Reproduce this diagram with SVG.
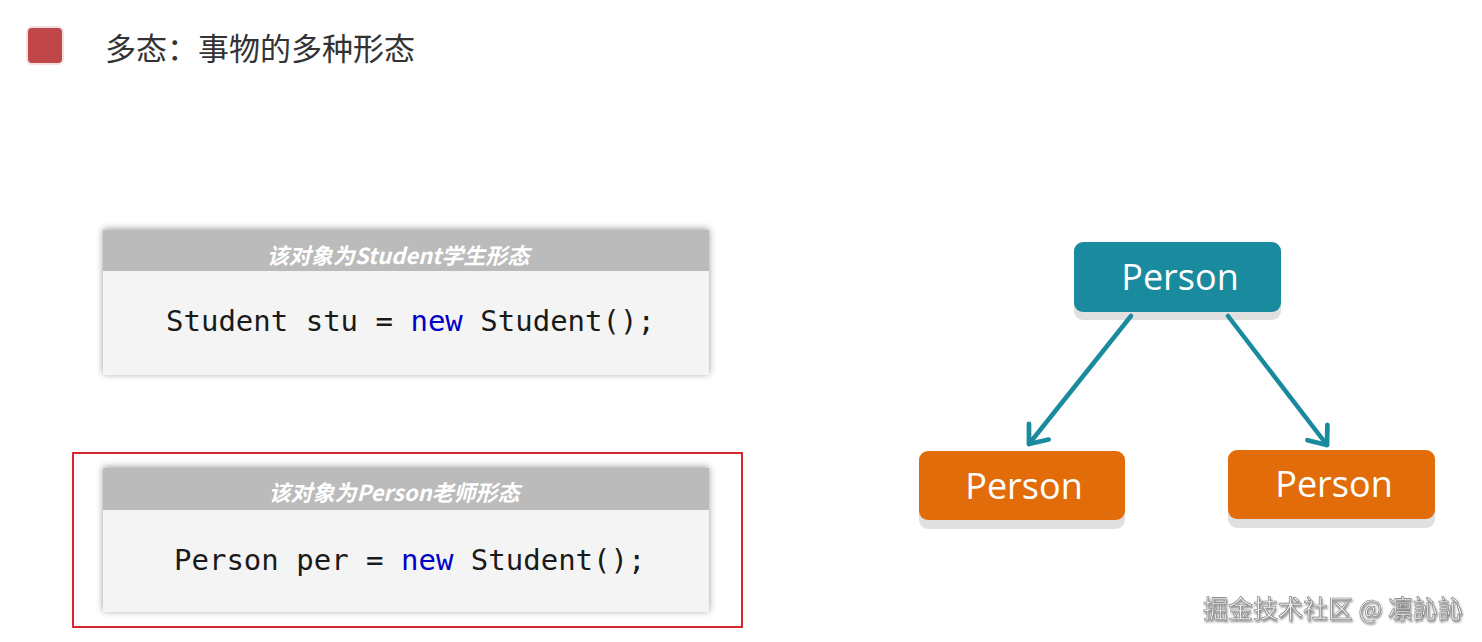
<svg xmlns="http://www.w3.org/2000/svg" width="1482" height="642" viewBox="0 0 1482 642">
<defs>
<style>
.title{font-family:"Noto Sans CJK SC","Noto Sans",sans-serif;font-size:31px;fill:#333}
.hdr{font-family:"Noto Sans CJK SC","Noto Sans",sans-serif;font-size:22px;font-weight:bold;font-style:italic;fill:#fff}
.code{font-family:"DejaVu Sans Mono","Liberation Mono",monospace;font-size:29px;fill:#1a1a1a}
.kw{fill:#0000c8}
.node{font-family:"Open Sans","Noto Sans",sans-serif;font-size:36px;fill:#fff}
.conn{stroke:#1a8a9e;stroke-width:4.5;fill:none;stroke-linecap:round}
.wm{font-family:"Noto Sans CJK SC","Noto Sans",sans-serif;font-size:25px;fill:#f2f2f2;stroke:#777;stroke-width:0.6}
</style>
<filter id="sh" x="-10%" y="-20%" width="120%" height="140%">
<feDropShadow dx="0" dy="-1" stdDeviation="3.5" flood-color="#000" flood-opacity="0.4"/>
</filter>
<filter id="wsh" x="-5%" y="-20%" width="110%" height="150%">
<feDropShadow dx="1" dy="2" stdDeviation="0.8" flood-color="#555" flood-opacity="0.7"/>
</filter>
<marker id="ah" viewBox="0 0 20 20" refX="12" refY="10" markerWidth="7" markerHeight="7" markerUnits="strokeWidth" orient="auto">
<path d="M2,2 L12,10 L2,18" fill="none" stroke="#1a8a9e" stroke-width="3" stroke-linecap="round" stroke-linejoin="round"/>
</marker>
</defs>
<rect width="1482" height="642" fill="#fff"/>
<g id="title">
<rect x="26" y="26" width="38" height="39" rx="6" fill="#f3e1e1"/>
<rect x="28" y="28" width="34" height="35" rx="4" fill="#c1464a"/>
<text class="title" x="105" y="60">多态：事物的多种形态</text>
</g>
<g id="card1">
<g filter="url(#sh)">
<rect x="103" y="230" width="606" height="145" fill="#f4f4f4"/>
</g>
<rect x="103" y="230" width="606" height="41" fill="#bbbbbb"/>
<text class="hdr" x="398" y="264" text-anchor="middle">该对象为Student学生形态</text>
<text class="code" x="166" y="331">Student stu = <tspan class="kw">new</tspan> Student();</text>
</g>
<g id="card2">
<rect x="73" y="453" width="669" height="174" fill="none" stroke="#d9272e" stroke-width="2"/>
<g filter="url(#sh)">
<rect x="103" y="468" width="606" height="144" fill="#f4f4f4"/>
</g>
<rect x="103" y="468" width="606" height="42" fill="#bbbbbb"/>
<text class="hdr" x="394" y="501" text-anchor="middle">该对象为Person老师形态</text>
<text class="code" x="174" y="570">Person per = <tspan class="kw">new</tspan> Student();</text>
</g>
<g id="node-top">
<rect x="1074" y="250" width="207" height="70" rx="9" fill="#e0e0e0"/>
<rect x="1074" y="242" width="207" height="70" rx="9" fill="#1a8a9e"/>
<text class="node" x="1180" y="290" text-anchor="middle">Person</text>
</g>
<g id="node-left">
<rect x="919" y="459" width="206" height="70" rx="9" fill="#e0e0e0"/>
<rect x="919" y="451" width="206" height="69" rx="9" fill="#e36c0a"/>
<text class="node" x="1024" y="499" text-anchor="middle">Person</text>
</g>
<g id="node-right">
<rect x="1228" y="458" width="207" height="70" rx="9" fill="#e0e0e0"/>
<rect x="1228" y="450" width="207" height="69" rx="9" fill="#e36c0a"/>
<text class="node" x="1334" y="497" text-anchor="middle">Person</text>
</g>
<g id="connectors">
<line class="conn" x1="1131" y1="316" x2="1029" y2="444" marker-end="url(#ah)"/>
<line class="conn" x1="1228" y1="316" x2="1327" y2="445" marker-end="url(#ah)"/>
</g>
<g id="watermark" filter="url(#wsh)">
<text class="wm" x="1203" y="618">掘金技术社区 @ 凛訫訫</text>
</g>
</svg>
